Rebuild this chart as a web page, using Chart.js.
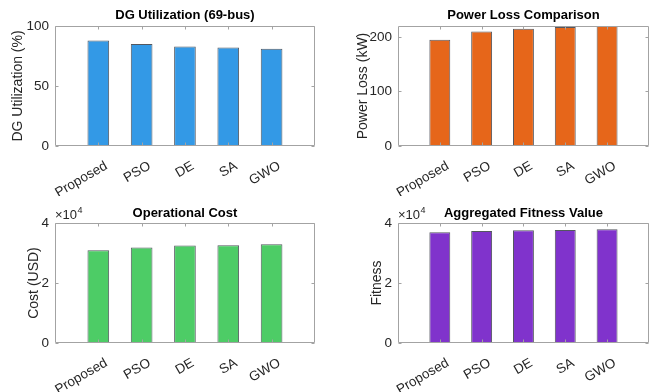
<!DOCTYPE html>
<html><head><meta charset="utf-8">
<script src="https://cdn.jsdelivr.net/npm/chart.js@4"></script>
<style>
body{margin:0;background:#fff;width:669px;height:392px;position:relative;overflow:hidden}
canvas{position:absolute}
</style></head><body>
<canvas id="c1" width="335" height="196" style="left:0;top:0"></canvas>
<canvas id="c2" width="334" height="196" style="left:335px;top:0"></canvas>
<canvas id="c3" width="335" height="196" style="left:0;top:196px"></canvas>
<canvas id="c4" width="334" height="196" style="left:335px;top:196px"></canvas>
<script>
// ---- data ----
const categories = ['Proposed', 'PSO', 'DE', 'SA', 'GWO'];
const dgUtilization = [88, 85, 83, 82, 81];
const powerLoss = [195, 210, 215, 218, 220];
const operationalCost = [30900, 31800, 32500, 32600, 32900];
const fitnessValue = [36900, 37300, 37600, 37700, 37900];
const ticksDG = [0, 50, 100];
const ticksLoss = [0, 100, 200];
const ticksCost = [0, 20000, 40000];
const ticksFit = [0, 20000, 40000];

const FONT = "'Liberation Sans', Arial, sans-serif";
Chart.defaults.font.family = FONT;
Chart.defaults.color = '#262626';

const paddedLabels = ['', ...categories, ''];
const pad = arr => [null, ...arr, null];

const decor = {
  id: 'decor',
  afterDraw(chart, args, o) {
    const {ctx, chartArea: a, scales} = chart;
    const L = Math.round(a.left) + 0.5, R = Math.round(a.right) - 0.5;
    const T = Math.round(a.top) + 0.5, B = Math.round(a.bottom) - 0.5;
    ctx.save();
    ctx.strokeStyle = '#a3a3a3';
    ctx.lineWidth = 1;
    ctx.beginPath();
    ctx.moveTo(L, T); ctx.lineTo(R, T); ctx.lineTo(R, B); ctx.lineTo(L, B); ctx.closePath();
    const tl = 3;
    scales.y.ticks.forEach(t => {
      const py = Math.round(scales.y.getPixelForValue(t.value)) + 0.5;
      ctx.moveTo(L, py); ctx.lineTo(L + tl, py);
      ctx.moveTo(R, py); ctx.lineTo(R - tl, py);
    });
    for (let i = 1; i <= categories.length; i++) {
      const px = Math.round(scales.x.getPixelForValue(i)) + 0.5;
      ctx.moveTo(px, T); ctx.lineTo(px, T + tl);
      ctx.moveTo(px, B); ctx.lineTo(px, B - tl);
    }
    ctx.stroke();
    // title
    ctx.fillStyle = '#000';
    ctx.font = 'bold 13px ' + FONT;
    ctx.textAlign = 'center';
    ctx.textBaseline = 'middle';
    ctx.fillText(o.title, (a.left + a.right) / 2, a.top - o.titleGap);
    // y label
    ctx.fillStyle = '#262626';
    ctx.font = '14px ' + FONT;
    ctx.save();
    ctx.translate(a.left - o.labelGap, (a.top + a.bottom) / 2);
    ctx.rotate(-Math.PI / 2);
    ctx.fillText(o.ylabel, 0, 0);
    ctx.restore();
    if (o.exponent) {
      ctx.textAlign = 'left';
      ctx.textBaseline = 'alphabetic';
      ctx.font = '13px ' + FONT;
      const s = '\u00d710';
      ctx.fillText(s, a.left, a.top - 4);
      const w = ctx.measureText(s).width;
      ctx.font = '9px ' + FONT;
      ctx.fillText(String(o.exponent), a.left + w + 0.5, a.top - 10);
    }
    ctx.restore();
  }
};

function makeChart(id, values, yTicks, color, cfg) {
  const yMax = cfg.yMax;
  return new Chart(document.getElementById(id), {
    type: 'bar',
    data: {
      labels: paddedLabels,
      datasets: [{
        data: pad(values),
        backgroundColor: color,
        borderColor: 'rgba(40,45,55,0.8)',
        borderWidth: 1,
        borderSkipped: false,
        categoryPercentage: 1,
        barPercentage: 0.5
      }]
    },
    options: {
      responsive: false,
      animation: false,
      events: [],
      layout: {padding: {left: 0, top: cfg.top, right: cfg.right, bottom: 0}},
      plugins: {
        legend: {display: false},
        tooltip: {enabled: false},
        title: {display: false},
        decor: cfg
      },
      scales: {
        x: {
          type: 'category',
          offset: false,
          grid: {display: false, drawTicks: false},
          border: {display: false},
          ticks: {
            autoSkip: false, maxRotation: 30, minRotation: 30,
            font: {size: 13.5}, color: '#262626', padding: 12, labelOffset: 8
          },
          afterFit(s) { s.height = cfg.xh; }
        },
        y: {
          min: 0, max: yMax,
          grid: {display: false, drawTicks: false},
          border: {display: false},
          ticks: {
            font: {size: 13.5}, color: '#262626', padding: 6,
            callback: v => cfg.exponent ? String(v / Math.pow(10, cfg.exponent)) : String(v)
          },
          afterBuildTicks(s) { s.ticks = yTicks.map(v => ({value: v})); },
          afterFit(s) { s.width = cfg.yw; }
        }
      }
    },
    plugins: [decor]
  });
}

makeChart('c1', dgUtilization, ticksDG, '#3399e6',
  {yMax: 100, top: 26, right: 20, xh: 50, yw: 55, title: 'DG Utilization (69-bus)', titleGap: 10.7, ylabel: 'DG Utilization (%)', labelGap: 37});
makeChart('c2', powerLoss, ticksLoss, '#e6661a',
  {yMax: 220, top: 26, right: 9, xh: 50, yw: 63, title: 'Power Loss Comparison', titleGap: 10.7, ylabel: 'Power Loss (kW)', labelGap: 35});
makeChart('c3', operationalCost, ticksCost, '#4dcc66',
  {yMax: 40000, top: 27, right: 20, xh: 49, yw: 55, title: 'Operational Cost', titleGap: 9.5, ylabel: 'Cost (USD)', labelGap: 21, exponent: 4});
makeChart('c4', fitnessValue, ticksFit, '#8033cc',
  {yMax: 40000, top: 27, right: 9, xh: 49, yw: 63, title: 'Aggregated Fitness Value', titleGap: 9.5, ylabel: 'Fitness', labelGap: 21, exponent: 4});
</script>
</body></html>
